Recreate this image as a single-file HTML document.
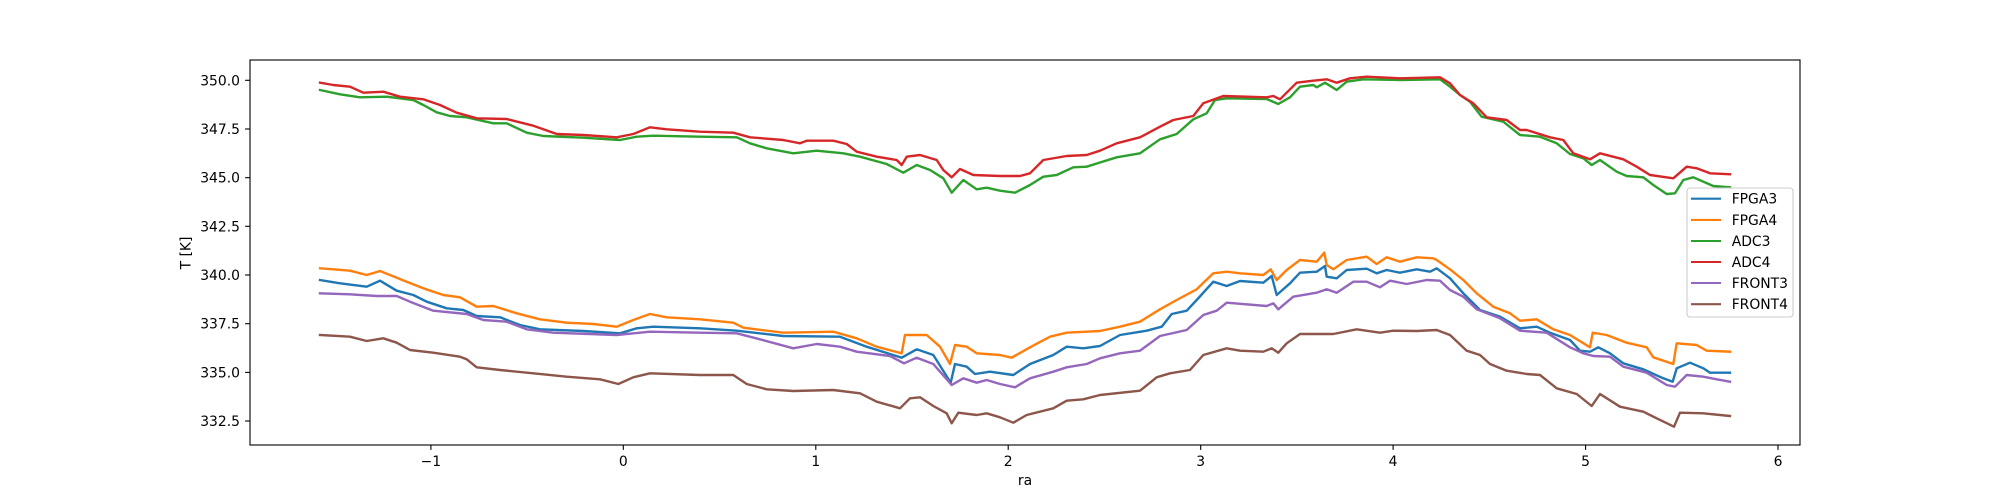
<!DOCTYPE html>
<html>
<head>
<meta charset="utf-8">
<style>
html,body{margin:0;padding:0;background:#fff;}
svg{display:block;}
text{font-family:"DejaVu Sans","Liberation Sans",sans-serif;font-size:13.9px;fill:#000;}
.s{fill:none;stroke-width:2.4;stroke-linejoin:round;stroke-linecap:square;}
</style>
</head>
<body>
<svg width="2000" height="500" viewBox="0 0 2000 500" xmlns="http://www.w3.org/2000/svg">
<rect x="0" y="0" width="2000" height="500" fill="#fff"/>

<!-- series -->
<polyline class="s" stroke="#1f77b4" points="320,280 340,283.3 366.7,286.7 380,280.7 396.7,290.7 413.3,295 426.7,301.7 446.7,308.3 463.3,310 476.7,316 500,317.3 520,325 540,329.3 583.3,331 620,333.3 636.7,328.3 653.3,326.7 700,328.3 736.7,330.7 783.3,336 840,336.7 866.7,346.7 901.7,357.7 916.7,349.3 933.3,355 950.7,382.7 955,364 966.7,366.7 975,374 990,371.7 1013.3,375 1030,364 1053.3,355 1066.7,346.7 1083.3,348.3 1100,346 1120,335 1146.7,330.7 1161.7,326.7 1171.7,314 1186.7,310.7 1196.7,300 1213.3,281.7 1226.7,286 1240,281 1263.3,282.7 1271.7,276 1276.7,295 1290,283.3 1300,272.7 1316.7,271.7 1325,266 1326.7,276.7 1336.7,278.3 1346.7,270 1366.7,268.7 1376.7,273.3 1386.7,270 1400,272.7 1416.7,269.3 1430,271.7 1436.7,268.3 1450,278.3 1463.3,293.3 1480,310 1500,316.7 1520,328.3 1536.7,326.7 1550,332.7 1570,340 1580,350.7 1590,351.7 1598.3,347.3 1610,353.3 1623.3,363.3 1643.3,369.3 1663.3,378.3 1672.7,381.7 1676.7,368.3 1690,362.7 1703.3,368.3 1710,372.7 1730,372.7"/>
<polyline class="s" stroke="#ff7f0e" points="320,268.3 333.3,269.3 350,270.7 366.7,275 380,271 390,275 406.7,281.7 423.3,288.3 443.3,295 460,297.3 476.7,306.7 493.3,306 516.7,313.3 540,319.3 566.7,322.7 593.3,324 616.7,326.7 633.3,320 650,314 666.7,317.3 700,319.3 733.3,322.7 743.3,327.7 783.3,332.7 833.3,331.7 856.7,338.3 876.7,346.7 901.7,353.3 905,335 926.7,335 940,346.7 950,364 955,345 966.7,346.7 976.7,353.3 1000,355 1011.7,357.7 1030,347.3 1050,336.7 1066.7,332.7 1100,331 1120,326.7 1140,321.7 1160,309.3 1176.7,300 1196.7,289.3 1213.3,273.3 1226.7,271.7 1240,273.3 1263.3,275 1270.7,269.3 1276.7,280 1286.7,270 1300,260 1316.7,261.7 1324.3,252.7 1326.7,265 1333.3,269.3 1346.7,260 1366.7,256.7 1376.7,264 1386.7,257.3 1400,261.7 1416.7,257.3 1433.3,258.3 1436.7,260 1450,269.3 1463.3,280 1476.7,293.3 1493.3,306.7 1510,313.3 1520,320.7 1536.7,319.3 1553.3,329.3 1570,335 1590,347.3 1592.7,332.7 1606.7,335 1626.7,342.7 1646.7,347.3 1653.3,357.3 1673.3,364 1676.7,343.3 1696.7,345 1706.7,350.7 1730,351.7"/>
<polyline class="s" stroke="#2ca02c" points="320,90 340,94.3 360,97.3 386.7,96.7 413.3,100 423.3,105 436.7,112.3 450,116 466.7,117.3 493.3,123.3 506.7,123.3 526.7,132.7 543.3,136 583.3,137.7 620,140 636.7,136.7 653.3,135.7 700,136.7 736.7,137.3 750,143.3 766.7,148.3 793.3,153.3 816.7,150.7 843.3,153.3 860,156.7 886.7,164 903.3,172.7 916.7,165 930,170 943.3,178.3 951.7,192.7 963.3,180 976.7,189.3 986.7,187.7 1000,190.7 1015,192.7 1030,185 1043.3,176.7 1056.7,175 1073.3,167.3 1086.7,166.7 1100,162.5 1116.7,157.3 1140,153.3 1160,139.3 1176.7,134 1193.3,119.3 1206.7,113.3 1215,100 1226.7,98.3 1266.7,99 1278.3,104 1290,97.3 1300,86.7 1313.3,85 1316.7,87.3 1325,82.7 1336.7,90 1346.7,81.7 1363.3,79.3 1400,80 1440,79.3 1450,86.7 1460,95 1470,101.7 1481.7,116.7 1503.3,121.7 1520,135 1540,136.7 1556.7,143.3 1570,154 1583.3,158.3 1591.7,165 1600,160 1616.7,171.7 1626.7,176 1643.3,177.3 1653.3,185 1666.7,194 1675,193.3 1683.3,180 1693.3,177.3 1713.3,186 1730,187.3"/>
<polyline class="s" stroke="#d62728" points="320,82.7 333.3,85 350,86.7 363.3,92.7 383.3,91.7 400,96.7 423.3,99.3 440,105 456.7,112.7 476.7,118.3 506.7,119 533.3,125.7 556.7,134 583.3,135 616.7,137.3 633.3,134 650,127.3 666.7,129.3 700,131.7 733.3,132.7 750,137.3 783.3,140 800,143.3 806.7,140.7 833.3,140.7 846.7,144 856.7,151.7 876.7,156.7 896.7,160 901.7,165 906.7,156.7 920,155 936.7,160 943.3,170 951.7,177.3 960,169 973.3,175 1000,176 1020,176 1030,173.3 1043.3,160 1066.7,156 1086.7,155 1100,150.7 1116.7,143.3 1140,137.3 1160,126.7 1173.3,120 1193.3,116 1203.3,103.3 1223.3,96 1266.7,97.3 1273.3,96 1280,99.3 1296.7,82.7 1313.3,80.7 1326.7,79.3 1336.7,82.7 1350,78.3 1366.7,76.7 1400,78.3 1440,77.3 1450,83.3 1460,95 1473.3,103.3 1486.7,117.3 1506.7,120 1520,130 1526.7,130 1550,137.3 1563.3,140 1573.3,153.3 1590,159.3 1600,153.3 1623.3,159.3 1636.7,166.7 1650,175 1673.3,178.3 1686.7,166.7 1696.7,168.3 1710,173.3 1730,174.3"/>
<polyline class="s" stroke="#9467bd" points="320,293.3 350,294.3 376.7,296 396.7,296 410,301.7 433.3,310.7 466.7,314 483.3,320 506.7,321.7 526.7,329.3 553.3,332.7 616.7,335 650,331.7 700,332.7 736.7,333.3 760,339.3 793.3,348.3 816.7,344 840,346.7 856.7,351.7 890,356 904,363.3 916.7,357.7 933.3,364 951.7,385 963.3,378.3 976.7,382.7 986.7,380 1000,384 1015,387.3 1030,378.3 1053.3,371.7 1066.7,367.3 1086.7,364 1100,358.3 1120,353.3 1140,350.7 1160,336 1186.7,330 1203.3,315 1216.7,310.7 1226.7,302.7 1266.7,306 1273.3,303.3 1278.3,309.3 1293.3,296.7 1316.7,292.7 1326.7,289.3 1336.7,292.7 1353.3,281.7 1366.7,281.7 1380,287.3 1390,280.7 1406.7,284 1426.7,280 1440,280.7 1450,290 1463.3,296.7 1476.7,309.3 1500,318.3 1520,330.7 1546.7,332.7 1570,347.3 1583.3,353.3 1593.3,356 1610,356.7 1623.3,366.7 1646.7,372.7 1666.7,385 1675,386.7 1686.7,375 1703.3,376.7 1716.7,379.3 1730,381.7"/>
<polyline class="s" stroke="#8c564b" points="320,335 350,336.7 366.7,341 383.3,338.3 396.7,342.7 410,350 433.3,352.7 460,356.7 466.7,359.3 476.7,367.3 500,370 533.3,373.3 566.7,376.7 600,379.3 618.3,384 633.3,377.3 650,373.3 700,375 733.3,375 746.7,384 766.7,389.3 793.3,391 833.3,390 860,393.3 876.7,401.7 900,408.3 910,398.3 920,397.3 933.3,406 946.7,413.3 951.7,423.3 958.3,412.7 976.7,415 986.7,413.3 1000,417.3 1013.3,422.7 1026.7,415 1053.3,408.3 1066.7,400.7 1083.3,399.3 1100,395 1140,390.7 1156.7,377.3 1170,373.3 1190,370 1203.3,355 1226.7,348.3 1240,350.7 1263.3,351.7 1271.7,348.3 1278.3,352.7 1286.7,343.3 1300,334 1333.3,334 1356.7,329.3 1380,332.7 1393.3,330.7 1416.7,331 1436.7,330 1450,335 1466.7,350.7 1480,355 1490,364 1506.7,370.7 1526.7,374 1540,375 1556.7,388.3 1576.7,394 1591.7,406 1600,394 1620,406.7 1643.3,411.7 1656.7,418.3 1674,426.7 1680,412.7 1703.3,413.3 1730,416"/>

<!-- axes frame -->
<rect x="250" y="60" width="1550" height="385" fill="none" stroke="#000" stroke-width="1.1"/>

<!-- y ticks -->
<g stroke="#000" stroke-width="1.1">
<line x1="245.1" y1="80.3" x2="250" y2="80.3"/>
<line x1="245.1" y1="129" x2="250" y2="129"/>
<line x1="245.1" y1="177.7" x2="250" y2="177.7"/>
<line x1="245.1" y1="226.3" x2="250" y2="226.3"/>
<line x1="245.1" y1="275" x2="250" y2="275"/>
<line x1="245.1" y1="323.7" x2="250" y2="323.7"/>
<line x1="245.1" y1="372.4" x2="250" y2="372.4"/>
<line x1="245.1" y1="421" x2="250" y2="421"/>
</g>
<g text-anchor="end">
<text x="240" y="85.3">350.0</text>
<text x="240" y="134">347.5</text>
<text x="240" y="182.7">345.0</text>
<text x="240" y="231.3">342.5</text>
<text x="240" y="280">340.0</text>
<text x="240" y="328.7">337.5</text>
<text x="240" y="377.4">335.0</text>
<text x="240" y="426">332.5</text>
</g>

<!-- x ticks -->
<g stroke="#000" stroke-width="1.1">
<line x1="430.9" y1="445" x2="430.9" y2="449.9"/>
<line x1="623.3" y1="445" x2="623.3" y2="449.9"/>
<line x1="815.8" y1="445" x2="815.8" y2="449.9"/>
<line x1="1008.2" y1="445" x2="1008.2" y2="449.9"/>
<line x1="1200.7" y1="445" x2="1200.7" y2="449.9"/>
<line x1="1393.1" y1="445" x2="1393.1" y2="449.9"/>
<line x1="1585.6" y1="445" x2="1585.6" y2="449.9"/>
<line x1="1778" y1="445" x2="1778" y2="449.9"/>
</g>
<g text-anchor="middle">
<text x="430.9" y="466">−1</text>
<text x="623.3" y="466">0</text>
<text x="815.8" y="466">1</text>
<text x="1008.2" y="466">2</text>
<text x="1200.7" y="466">3</text>
<text x="1393.1" y="466">4</text>
<text x="1585.6" y="466">5</text>
<text x="1778" y="466">6</text>
</g>

<!-- axis labels -->
<text x="1025" y="485" text-anchor="middle">ra</text>
<text x="0" y="0" text-anchor="middle" transform="translate(190.5,253) rotate(-90)">T [K]</text>

<!-- legend -->
<rect x="1687" y="188" width="106" height="129" rx="3" ry="3" fill="#fff" fill-opacity="0.8" stroke="#cccccc" stroke-width="1.1"/>
<g stroke-width="2.1">
<line x1="1691" y1="198.7" x2="1721" y2="198.7" stroke="#1f77b4"/>
<line x1="1691" y1="219.9" x2="1721" y2="219.9" stroke="#ff7f0e"/>
<line x1="1691" y1="241" x2="1721" y2="241" stroke="#2ca02c"/>
<line x1="1691" y1="262" x2="1721" y2="262" stroke="#d62728"/>
<line x1="1691" y1="283" x2="1721" y2="283" stroke="#9467bd"/>
<line x1="1691" y1="304.2" x2="1721" y2="304.2" stroke="#8c564b"/>
</g>
<text x="1731.7" y="203.7">FPGA3</text>
<text x="1731.7" y="224.9">FPGA4</text>
<text x="1731.7" y="246">ADC3</text>
<text x="1731.7" y="267">ADC4</text>
<text x="1731.7" y="288">FRONT3</text>
<text x="1731.7" y="309.2">FRONT4</text>
</svg>
</body>
</html>
